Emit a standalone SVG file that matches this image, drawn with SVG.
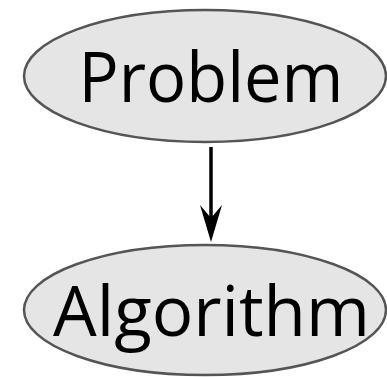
<svg xmlns="http://www.w3.org/2000/svg" width="387" height="377" viewBox="0 0 387 377">
<style>
.node ellipse{fill:#e5e5e5;stroke:#555;stroke-width:2.5}
.node text{font-family:"Open Sans","Noto Sans",sans-serif;font-size:70px;fill:#000;text-anchor:middle}
.edge line{stroke:#000;stroke-width:3.5}
</style>
<rect width="387" height="377" fill="#fff"/>
<g id="problem" class="node">
<ellipse cx="205" cy="76" rx="181" ry="66"/>
<text x="211" y="102" textLength="265" lengthAdjust="spacingAndGlyphs">Problem</text>
</g>
<g id="algorithm" class="node">
<ellipse cx="205" cy="310" rx="181" ry="65"/>
<text x="211.5" y="336" textLength="317" lengthAdjust="spacingAndGlyphs">Algorithm</text>
</g>
<g id="connectors" class="edge">
<line x1="211" y1="147" x2="211" y2="222"/>
<polygon points="211,242 200,205 211,218 222,205" fill="#000"/>
</g>
</svg>
